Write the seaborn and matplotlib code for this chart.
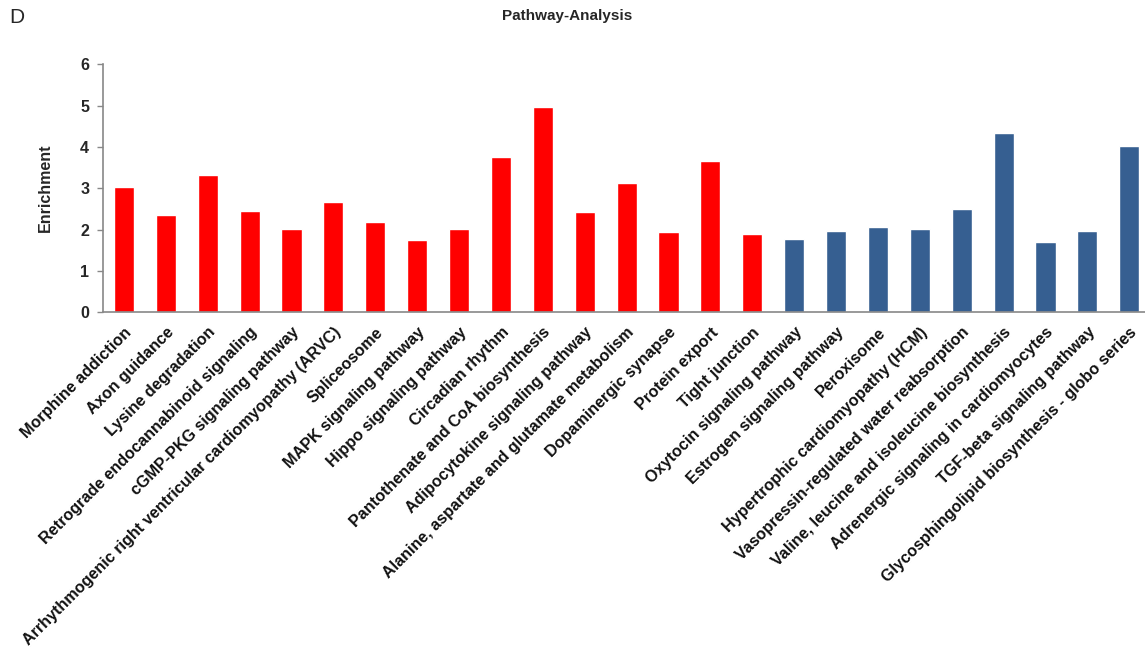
import matplotlib
matplotlib.use("Agg")
import matplotlib.pyplot as plt
import numpy as np
import pandas as pd
import seaborn as sns

pathways = [
    "Morphine addiction", "Axon guidance", "Lysine degradation",
    "Retrograde endocannabinoid signaling", "cGMP-PKG signaling pathway",
    "Arrhythmogenic right ventricular cardiomyopathy (ARVC)", "Spliceosome",
    "MAPK signaling pathway", "Hippo signaling pathway", "Circadian rhythm",
    "Pantothenate and CoA biosynthesis", "Adipocytokine signaling pathway",
    "Alanine, aspartate and glutamate metabolism", "Dopaminergic synapse",
    "Protein export", "Tight junction", "Oxytocin signaling pathway",
    "Estrogen signaling pathway", "Peroxisome",
    "Hypertrophic cardiomyopathy (HCM)",
    "Vasopressin-regulated water reabsorption",
    "Valine, leucine and isoleucine biosynthesis",
    "Adrenergic signaling in cardiomyocytes", "TGF-beta signaling pathway",
    "Glycosphingolipid biosynthesis - globo series",
]
enrichment = [3.02, 2.35, 3.31, 2.45, 2.01, 2.66, 2.17, 1.74, 2.01, 3.75,
              4.96, 2.42, 3.13, 1.93, 3.66, 1.89, 1.77, 1.97, 2.05, 2.01,
              2.49, 4.33, 1.69, 1.96, 4.03]
group = ["red"] * 16 + ["blue"] * 9

df = pd.DataFrame({"pathway": pathways, "enrichment": enrichment, "group": group})
pal = {"red": "#FF0000", "blue": "#365F91"}

sns.set_style("white")
plt.rcParams['font.family'] = ['Liberation Sans', 'DejaVu Sans']

fig = plt.figure(figsize=(11.45, 6.57), dpi=100)
ax = fig.add_axes([0.09, 0.525, 0.9127, 0.377])
sns.barplot(data=df, x="pathway", y="enrichment", hue="group", palette=pal,
            dodge=False, width=0.48, legend=False, ax=ax, saturation=1)

ax.set_xlim(-0.5, 24.45)
ax.set_ylim(0, 6)
ax.set_yticks(range(0, 7))
ax.set_yticklabels([str(i) for i in range(0, 7)], fontsize=11.5, fontweight='bold')
ax.set_xticks(range(len(pathways)))
ax.set_xticklabels(pathways, rotation=45, ha='right', rotation_mode='anchor',
                   fontsize=11.6, fontweight='bold', color='#111111')
ax.tick_params(axis='x', length=0, pad=9)
ax.tick_params(axis='y', length=4, width=1, color='#888888', direction='out', pad=6, left=True)
ax.set_xlabel("")
ax.set_ylabel("Enrichment", fontsize=11.5, fontweight='bold', labelpad=20)
for side in ['top', 'right']:
    ax.spines[side].set_visible(False)
for side in ['left', 'bottom']:
    ax.spines[side].set_color('#888888')
    ax.spines[side].set_linewidth(1.2)

fig.text(0.495, 0.987, "Pathway-Analysis", ha='center', va='top',
         fontsize=11, fontweight='bold')
fig.text(0.008, 0.988, "D", ha='left', va='top', fontsize=15)

plt.savefig("out.png", dpi=100)
